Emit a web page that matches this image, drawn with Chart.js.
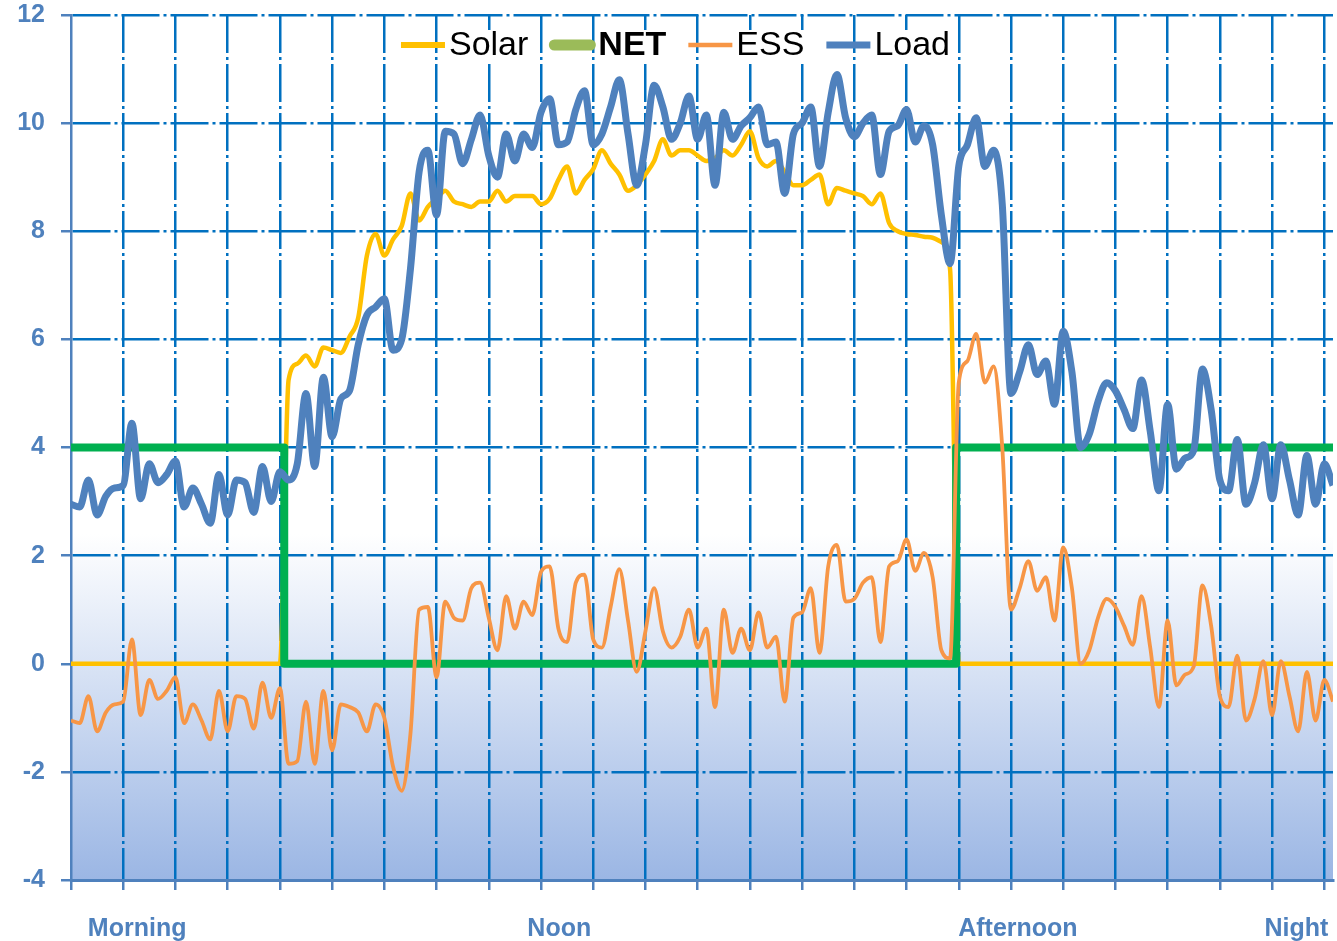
<!DOCTYPE html>
<html>
<head>
<meta charset="utf-8">
<title>Solar, NET, ESS and Load</title>
<script src="https://cdn.jsdelivr.net/npm/chart.js@4.4.1/dist/chart.umd.min.js"></script>
<style>
  html, body { margin: 0; padding: 0; background: #fff; }
  #wrap { width: 1337px; height: 941px; position: relative; }
</style>
</head>
<body>
<div id="wrap"><canvas id="chart"></canvas></div>
<script>
// kW readings, one sample every 10 minutes (6 samples per grid column)
const loadKw = [
  2.95, 2.9, 3.4, 2.75, 3.1, 3.25, 3.3, 4.45, 3.05, 3.7, 3.35, 3.5, 3.75, 2.9, 3.25, 2.95, 2.6, 3.5, 2.75, 3.4, 3.35, 2.8, 3.65, 3.0, 3.55,
  3.4, 3.7, 5.0, 3.65, 5.3, 4.2, 4.9, 5.05, 5.9, 6.45, 6.6, 6.75, 5.8, 6.0, 7.3, 9.1, 9.5, 8.3, 9.85, 9.8, 9.25, 9.7, 10.15,
  9.4, 9.0, 9.8, 9.3, 9.8, 9.55, 10.2, 10.45, 9.6, 9.65, 10.25, 10.6, 9.6, 9.8, 10.3, 10.8, 9.8, 8.85, 9.6, 10.7, 10.3, 9.7, 10.0, 10.5,
  9.7, 10.15, 8.85, 10.2, 9.7, 9.95, 10.1, 10.3, 9.6, 9.65, 8.7, 9.8, 10.0, 10.3, 9.2, 10.2, 10.9, 10.1, 9.75, 10.0, 10.15, 9.05, 9.85, 9.95,
  10.25, 9.65, 9.95, 9.6, 8.3, 7.4, 9.2, 9.6, 10.1, 9.2, 9.5, 8.5,
  5.0, 5.4, 5.9, 5.35, 5.6, 4.8, 6.15, 5.4, 4.0, 4.25, 4.85, 5.2, 5.05,
  4.7, 4.35, 5.25, 4.3, 3.2, 4.8, 3.6, 3.8, 3.95, 5.45, 4.7, 3.4, 3.2, 4.15, 2.95, 3.35, 4.05, 3.05, 4.05, 3.4, 2.75, 3.85, 2.95, 3.7, 3.3
];

const solarKw = [
  0, 0, 0, 0, 0, 0, 0, 0, 0, 0, 0, 0, 0, 0, 0, 0, 0, 0, 0, 0, 0, 0, 0, 0, 0,
  5.25, 5.55, 5.7, 5.5, 5.85, 5.8, 5.75, 6.05, 6.4, 7.55, 7.95, 7.55, 7.85, 8.1, 8.7, 8.2, 8.45, 8.6, 8.75, 8.55, 8.5, 8.45, 8.55,
  8.55, 8.75, 8.55, 8.65, 8.65, 8.65, 8.5, 8.6, 8.95, 9.2, 8.7, 8.95, 9.15, 9.5, 9.25, 9.05, 8.75, 8.85, 9.05, 9.3, 9.7, 9.4, 9.5, 9.5,
  9.4, 9.3, 9.35, 9.5, 9.4, 9.6, 9.85, 9.35, 9.2, 9.3, 9.1, 8.85, 8.85, 8.95, 9.05, 8.5, 8.8, 8.75, 8.7, 8.65, 8.5, 8.7, 8.15, 8.0,
  7.95, 7.93, 7.9, 7.88, 7.8, 7.3,
  0, 0, 0, 0, 0, 0, 0, 0, 0, 0, 0, 0, 0, 0, 0, 0, 0, 0, 0, 0, 0, 0,
  0, 0, 0, 0, 0, 0, 0, 0, 0, 0, 0, 0, 0, 0, 0, 0, 0, 0, 0, 0, 0, 0
];

const essKw = [
  -1.05, -1.1, -0.6, -1.25, -0.9, -0.75, -0.7, 0.45, -0.95, -0.3, -0.65, -0.5, -0.25, -1.1, -0.75, -1.05, -1.4, -0.5, -1.25, -0.6, -0.65, -1.2, -0.35, -1.0, -0.45,
  -1.85, -1.8, -0.7, -1.85, -0.5, -1.6, -0.75, -0.8, -0.9, -1.25, -0.75, -1.0, -1.9, -2.35, -1.3, 1.0, 1.05, -0.25, 1.15, 0.85, 0.8, 1.4, 1.5,
  0.85, 0.25, 1.25, 0.65, 1.15, 0.9, 1.7, 1.8, 0.65, 0.4, 1.5, 1.65, 0.45, 0.3, 1.05, 1.75, 0.8, -0.15, 0.6, 1.4, 0.6, 0.3, 0.5, 1.0,
  0.3, 0.65, -0.8, 1.0, 0.2, 0.65, 0.25, 0.95, 0.3, 0.5, -0.7, 0.85, 0.95, 1.4, 0.2, 1.8, 2.2, 1.15, 1.2, 1.5, 1.6, 0.4, 1.8, 1.9,
  2.3, 1.72, 2.05, 1.6, 0.25, 0.1, 5.2, 5.6, 6.1, 5.2, 5.5, 4.0,
  1.0, 1.4, 1.9, 1.35, 1.6, 0.8, 2.15, 1.4, 0.0, 0.25, 0.85, 1.2, 1.05,
  0.7, 0.35, 1.25, 0.3, -0.8, 0.8, -0.4, -0.2, -0.05, 1.45, 0.7, -0.6, -0.8, 0.15, -1.05, -0.65, 0.05, -0.95, 0.05, -0.6, -1.25, -0.15, -1.05, -0.3, -0.7
];

// grid limit: drops to zero while solar covers the load
const netAt = [0, 24.5, 24.5, 101.7, 101.7, 145];
const netKw = [4, 4, 0, 0, 4, 4];

const periodLabels = ['Morning', 'Noon', 'Afternoon', 'Night'];
const periodAt = [7.6, 56.1, 108.8, 140.8];

const GRID = '#0070c0';
const AXIS = '#4f81bd';
const NONE = 'rgba(0,0,0,0)';
const FONT = 'Liberation Sans';

const series = arr => arr.map((v, i) => ({ x: i, y: v }));

// white to blue wash across the lower part of the plot
const plotWash = {
  id: 'plotWash',
  beforeDraw(chart) {
    const { ctx, chartArea: a, scales: { y } } = chart;
    const from = (y.getPixelForValue(2.4) - a.top) / a.height;
    const g = ctx.createLinearGradient(0, a.top, 0, a.bottom);
    g.addColorStop(0, '#ffffff');
    g.addColorStop(from, '#ffffff');
    g.addColorStop(1, 'rgb(155,182,228)');
    ctx.save();
    ctx.fillStyle = g;
    ctx.fillRect(a.left, a.top, a.width, a.height);
    ctx.restore();
  }
};

// legend sitting inside the top of the plot
const insideLegend = {
  id: 'insideLegend',
  afterDraw(chart) {
    const { ctx } = chart;
    const sets = chart.data.datasets;
    const mark = 44, gapText = 4, gapItem = 22, cy = 45;
    const fontOf = ds => (ds.legendBold ? 'bold ' : '') + '34px "' + FONT + '"';
    const widths = sets.map(ds => { ctx.font = fontOf(ds); return ctx.measureText(ds.label).width; });
    const total = widths.reduce((s, w) => s + w + mark + gapText, 0) + gapItem * (sets.length - 1);
    let x = chart.width / 2 + 7 - total / 2;
    ctx.save();
    sets.forEach((ds, k) => {
      ctx.strokeStyle = ds.legendColor;
      ctx.lineWidth = ds.legendWidth;
      ctx.lineCap = ds.legendBold ? 'round' : 'butt';
      ctx.beginPath();
      ctx.moveTo(x + (ds.legendBold ? 4 : 0), cy);
      ctx.lineTo(x + mark - (ds.legendBold ? 4 : 0), cy);
      ctx.stroke();
      x += mark + gapText;
      ctx.fillStyle = '#ffffff';
      ctx.fillRect(x - 1, 30, widths[k] + 2, 33);
      ctx.font = fontOf(ds);
      ctx.fillStyle = '#000000';
      ctx.textBaseline = 'middle';
      ctx.textAlign = 'left';
      ctx.fillText(ds.label, x, cy + 1);
      x += widths[k] + gapItem;
    });
    ctx.restore();
  }
};

new Chart(document.getElementById('chart'), {
  type: 'line',
  data: {
    datasets: [
      { label: 'Solar', data: series(solarKw), borderColor: '#ffc000', borderWidth: 4.5, order: 3,
        legendColor: '#ffc000', legendWidth: 6 },
      { label: 'NET', data: netAt.map((t, k) => ({ x: t, y: netKw[k] })), borderColor: '#00b050', borderWidth: 8,
        cubicInterpolationMode: 'default', tension: 0, order: 2,
        legendColor: '#9bbb59', legendWidth: 11, legendBold: true },
      { label: 'ESS', data: series(essKw), borderColor: '#f79646', borderWidth: 3.8, order: 1,
        legendColor: '#f79646', legendWidth: 4.5 },
      { label: 'Load', data: series(loadKw), borderColor: '#4f81bd', borderWidth: 7, order: 0,
        legendColor: '#4f81bd', legendWidth: 7 }
    ]
  },
  options: {
    responsive: true,
    maintainAspectRatio: false,
    animation: false,
    events: [],
    layout: { padding: { top: 15, right: 4, left: 0, bottom: 0 } },
    elements: {
      point: { radius: 0 },
      line: { cubicInterpolationMode: 'monotone', borderCapStyle: 'butt', borderJoinStyle: 'round' }
    },
    plugins: { legend: { display: false }, tooltip: { enabled: false } },
    scales: {
      x: {
        type: 'linear',
        min: 0,
        max: 145,
        // fixed band under the plot; label overhang handled by the layout padding
        afterFit: s => { s.height = 61; s.paddingLeft = 0; s.paddingRight = 0; },
        afterBuildTicks: s => {
          const ticks = [];
          for (let v = 0; v < 145; v += 6) ticks.push({ value: v });
          periodAt.forEach((v, k) => ticks.push({ value: v, period: periodLabels[k] }));
          ticks.sort((p, q) => p.value - q.value);
          s.ticks = ticks;
        },
        grid: {
          color: c => (c.tick && (c.tick.period || c.tick.value === 0)) ? NONE : GRID,
          lineWidth: 2.5,
          tickLength: 10,
          tickWidth: 2.5,
          tickColor: c => (c.tick && c.tick.period) ? NONE : AXIS
        },
        border: { display: true, color: AXIS, width: 3, dash: [38, 4, 3, 4] },
        ticks: {
          autoSkip: false,
          maxRotation: 0,
          padding: 24,
          color: AXIS,
          font: { family: FONT, size: 25, weight: 'bold' },
          callback: (v, i, ticks) => ticks[i].period || ''
        }
      },
      y: {
        min: -4,
        max: 12,
        afterFit: s => { s.width = 71; s.paddingTop = 0; s.paddingBottom = 0; },
        grid: {
          color: c => (c.tick && c.tick.value === -4) ? NONE : GRID,
          lineWidth: 2.5,
          tickLength: 10,
          tickWidth: 2.5,
          tickColor: AXIS
        },
        border: { display: true, color: AXIS, width: 2.5, dash: [38, 4, 3, 4] },
        ticks: {
          stepSize: 2,
          padding: 16,
          color: AXIS,
          font: { family: FONT, size: 25, weight: 'bold' }
        }
      }
    }
  },
  plugins: [plotWash, insideLegend]
});
</script>
</body>
</html>
